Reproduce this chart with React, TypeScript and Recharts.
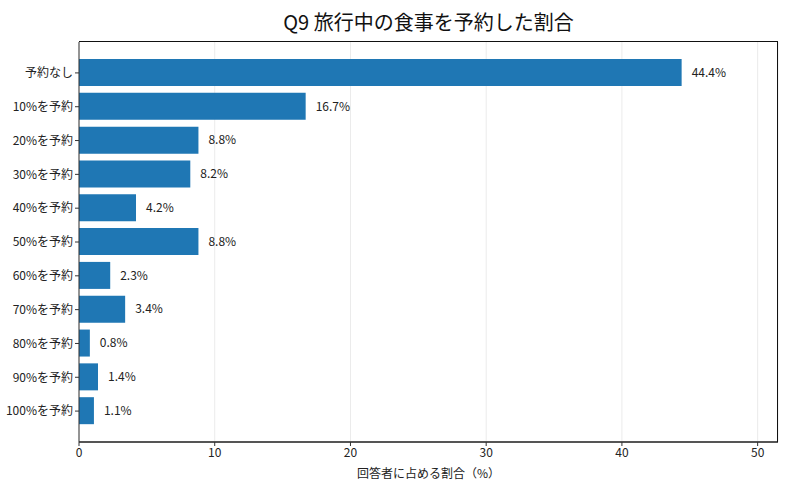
import { Bar, BarChart, CartesianGrid, LabelList, XAxis, YAxis } from 'recharts';

const categories = [
  '予約なし',
  '10%を予約',
  '20%を予約',
  '30%を予約',
  '40%を予約',
  '50%を予約',
  '60%を予約',
  '70%を予約',
  '80%を予約',
  '90%を予約',
  '100%を予約',
];
const shares = [44.4, 16.7, 8.8, 8.2, 4.2, 8.8, 2.3, 3.4, 0.8, 1.4, 1.1];
const xTicks = [0, 10, 20, 30, 40, 50];

const data = categories.map((name, i) => ({ name, value: shares[i] }));

const FONT = '"Noto Sans CJK JP", "Noto Sans", sans-serif';

export default function App() {
  return (
    <div
      style={{
        position: 'absolute',
        left: 0,
        top: 0,
        width: 800,
        height: 488,
        background: '#fff',
        fontFamily: FONT,
      }}
    >
      <div
        style={{
          position: 'absolute',
          left: 79,
          width: 699,
          top: 8,
          textAlign: 'center',
          fontSize: 20,
          color: '#111',
          lineHeight: '28px',
        }}
      >
        Q9 旅行中の食事を予約した割合
      </div>
      <BarChart
        width={800}
        height={488}
        data={data}
        layout="vertical"
        margin={{ top: 42, right: 22, bottom: 0, left: 0 }}
        barCategoryGap={0}
      >
        <CartesianGrid horizontal={false} stroke="#ebebeb" />
        <XAxis
          type="number"
          domain={[0, 51.5]}
          ticks={xTicks}
          allowDataOverflow
          height={46}
          axisLine={{ stroke: '#555', strokeWidth: 2 }}
          tickLine={{ stroke: '#333' }}
          tickSize={4}
          tick={{ fontSize: 12, fill: '#222', fontFamily: FONT }}
          label={{
            value: '回答者に占める割合（%）',
            position: 'insideBottom',
            offset: 10,
            fontSize: 12,
            fill: '#222',
            fontFamily: FONT,
          }}
        />
        <YAxis
          type="category"
          dataKey="name"
          width={79}
          padding={{ top: 14, bottom: 14 }}
          axisLine={{ stroke: '#333' }}
          tickLine={{ stroke: '#333' }}
          tickSize={4}
          tick={{ fontSize: 12, fill: '#222', fontFamily: FONT }}
        />
        <Bar dataKey="value" fill="#1f77b4" barSize={27} isAnimationActive={false}>
          <LabelList
            dataKey="value"
            position="right"
            offset={10}
            formatter={(v: number) => `${v}%`}
            style={{ fontSize: 12, fill: '#222', fontFamily: FONT }}
          />
        </Bar>
      </BarChart>
      {/* top and right frame of the plot area */}
      <div
        style={{
          position: 'absolute',
          left: 79,
          top: 41,
          width: 698,
          height: 400,
          borderTop: '1px solid #111',
          borderRight: '1px solid #111',
          pointerEvents: 'none',
        }}
      />
    </div>
  );
}
